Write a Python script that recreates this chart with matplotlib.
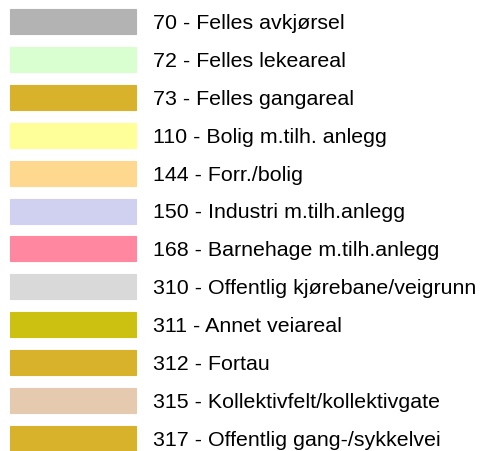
import matplotlib
matplotlib.use("Agg")
import matplotlib.pyplot as plt
from matplotlib.patches import Rectangle

codes = ["70", "72", "73", "110", "144", "150", "168", "310", "311", "312", "315", "317"]
names = ["Felles avkjørsel", "Felles lekeareal", "Felles gangareal", "Bolig m.tilh. anlegg",
         "Forr./bolig", "Industri m.tilh.anlegg", "Barnehage m.tilh.anlegg",
         "Offentlig kjørebane/veigrunn", "Annet veiareal", "Fortau",
         "Kollektivfelt/kollektivgate", "Offentlig gang-/sykkelvei"]
colors = ["#b3b3b3", "#d9ffd0", "#d9b22b", "#ffff99", "#ffd890", "#d0d0f0",
          "#ff88a0", "#d9d9d9", "#ccc010", "#d9b22b", "#e6cab0", "#d9b22b"]

W, H = 497, 452
fig = plt.figure(figsize=(W / 100, H / 100), dpi=100)
ax = fig.add_axes([0, 0, 1, 1])
ax.set_xlim(0, W)
ax.set_ylim(H, 0)
ax.axis("off")

top = 22.5
step = 37.9
for i, (c, n, col) in enumerate(zip(codes, names, colors)):
    yc = top + i * step
    ax.add_patch(Rectangle((10, yc - 12.5), 126, 25, facecolor=col,
                           edgecolor=col, linewidth=0.8))
    ax.text(153, yc + 1, f"{c} - {n}", fontsize=15.4, family="Liberation Sans",
            va="center", ha="left", color="black")

fig.savefig("out.png", dpi=100)
